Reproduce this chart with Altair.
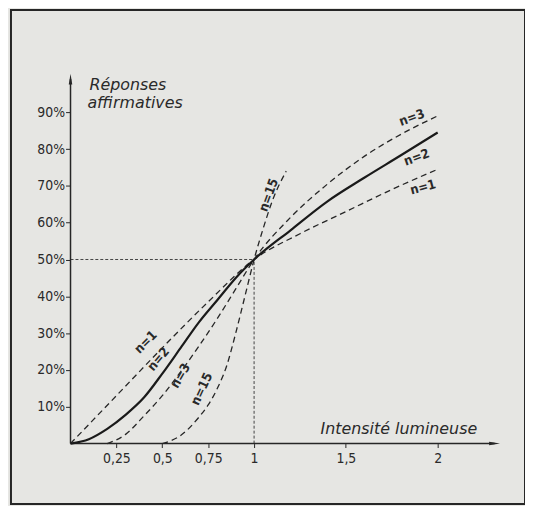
import altair as alt
import pandas as pd

# ---- curve data ----
n1_x = [0, 0.25, 0.5, 0.75, 1.0, 1.25, 1.5, 1.75, 2.0]
n1_y = [0, 13, 26, 38.5, 50, 57, 63, 69, 74.5]
n2_x = [0, 0.1, 0.2, 0.3, 0.4, 0.5, 0.6, 0.7, 0.8, 0.9, 1.0, 1.2, 1.4, 1.6, 1.8, 2.0]
n2_y = [0, 1.2, 4.0, 7.8, 12.5, 19, 26, 33, 39, 45, 50, 58, 65.8, 72.2, 78.3, 84.5]
n3_x = [0.2, 0.3, 0.4, 0.5, 0.6, 0.7, 0.8, 0.9, 1.0, 1.2, 1.4, 1.6, 1.8, 2.0]
n3_y = [0, 2.5, 7.5, 13, 19.5, 26.5, 34, 42, 50, 61.5, 70.5, 78, 84, 89]
n15_x = [0.5, 0.6, 0.7, 0.75, 0.8, 0.85, 0.9, 0.95, 1.0, 1.05, 1.1, 1.175]
n15_y = [0, 2.2, 7.2, 10.5, 15, 21, 30, 40, 50, 58.5, 66, 74]

# ---- curve labels ----
lab_text = ["n=1", "n=2", "n=3", "n=15", "n=15", "n=3", "n=2", "n=1"]
lab_x = [0.41, 0.48, 0.6, 0.715, 1.08, 1.86, 1.886, 1.92]
lab_y = [27.5, 22.9, 18.4, 14.8, 67.5, 88.5, 77.7, 69.6]
lab_angle = [315, 310, 300, 295, 290, 340, 340, 345]

# ---- axes ----
x_ticks = [0.25, 0.5, 0.75, 1, 1.5, 2]
y_ticks = [10, 20, 30, 40, 50, 60, 70, 80, 90]
x_axis_end = 2.31
y_axis_end = 99.0
ref_x = 1.0
ref_y = 50

titles = ["Réponses", "affirmatives", "Intensité lumineuse"]
title_x = [0.103, 0.092, 1.362]
title_y = [97.3, 92.5, 4.0]

XMIN, XMAX = -0.3243, 2.4757
YMIN, YMAX = -16.44, 117.79

INK = "#262626"
BG = "#e6e6e3"
FONT = "DejaVu Sans Condensed, Liberation Sans Narrow, DejaVu Sans, sans-serif"
IFONT = "DejaVu Sans, sans-serif"

curves = pd.DataFrame(
    [dict(n="1", x=a, y=b) for a, b in zip(n1_x, n1_y)]
    + [dict(n="3", x=a, y=b) for a, b in zip(n3_x, n3_y)]
    + [dict(n="15", x=a, y=b) for a, b in zip(n15_x, n15_y)]
)
solid = pd.DataFrame(dict(x=n2_x, y=n2_y))
labels = pd.DataFrame(dict(x=lab_x, y=lab_y, text=lab_text, angle=lab_angle))
tit = pd.DataFrame(dict(x=title_x, y=title_y, text=titles))

axis_lines = pd.DataFrame(dict(x=[0, 0], y=[0, 0], x2=[x_axis_end, 0], y2=[0, y_axis_end]))
ref_lines = pd.DataFrame(dict(x=[0, ref_x], y=[ref_y, 0], x2=[ref_x, ref_x], y2=[ref_y, ref_y]))
arrows = pd.DataFrame(dict(x=[0, x_axis_end], y=[y_axis_end, 0], shape=["up", "right"]))

xs = alt.Scale(domain=[XMIN, XMAX], nice=False, zero=False)
ys = alt.Scale(domain=[YMIN, YMAX], nice=False, zero=False)

x_axis = alt.Axis(
    values=x_ticks, offset=-61, domain=False, grid=False, title=None,
    labelExpr="replace(format(datum.value, ''), '.', ',')",
    tickSize=4, tickColor=INK, labelPadding=4, labelFont=FONT, labelFontSize=14,
    labelColor="#2a2a2a", labelBaseline="top",
)
y_axis = alt.Axis(
    values=y_ticks, offset=-60, domain=False, grid=False, title=None,
    labelExpr="datum.value + '%'",
    tickSize=5, tickColor=INK, labelPadding=1, labelFont=FONT, labelFontSize=14,
    labelColor="#2a2a2a",
)

X = alt.X("x:Q", scale=xs, axis=x_axis)
Y = alt.Y("y:Q", scale=ys, axis=y_axis)

l_axes = alt.Chart(axis_lines).mark_rule(color=INK, strokeWidth=1.5).encode(
    x=X, y=Y, x2="x2:Q", y2="y2:Q"
)
l_ref = alt.Chart(ref_lines).mark_rule(color="#444444", strokeWidth=1, strokeDash=[3, 2]).encode(
    x=X, y=Y, x2="x2:Q", y2="y2:Q"
)
l_arrow_up = alt.Chart(arrows[arrows["shape"] == "up"]).mark_point(
    shape="M0,-1L0.32,1L-0.32,1Z", size=120, filled=True, color=INK, opacity=1
).encode(x=X, y=Y)
l_arrow_right = alt.Chart(arrows[arrows["shape"] == "right"]).mark_point(
    shape="M1,0L-1,0.32L-1,-0.32Z", size=120, filled=True, color=INK, opacity=1
).encode(x=X, y=Y)
l_dashed = alt.Chart(curves).mark_line(
    color=INK, strokeWidth=1.3, strokeDash=[6, 4], interpolate="monotone"
).encode(x=X, y=Y, detail="n:N", order="x:Q")
l_solid = alt.Chart(solid).mark_line(
    color="#1a1a1a", strokeWidth=2.2, interpolate="monotone"
).encode(x=X, y=Y)
l_labels = alt.Chart(labels).mark_text(
    font=FONT, fontSize=13, fontWeight="bold", color="#2a2a2a", align="center", baseline="middle"
).encode(x=X, y=Y, text="text:N", angle=alt.Angle("angle:Q", scale=None))
l_titles = alt.Chart(tit).mark_text(
    font=IFONT, fontSize=16, fontStyle="italic", color="#2a2a2a", align="left", baseline="middle"
).encode(x=X, y=Y, text="text:N")

chart = alt.layer(
    l_ref, l_axes, l_arrow_up, l_arrow_right, l_dashed, l_solid, l_labels, l_titles
).properties(
    width=518, height=498,
    autosize=alt.AutoSizeParams(type="none"),
    padding={"left": 3, "top": 0, "right": 0, "bottom": 0},
    background=BG,
).configure_view(stroke=INK, strokeWidth=2)

chart.save("out.html", embed_options={"renderer": "svg", "actions": False})
